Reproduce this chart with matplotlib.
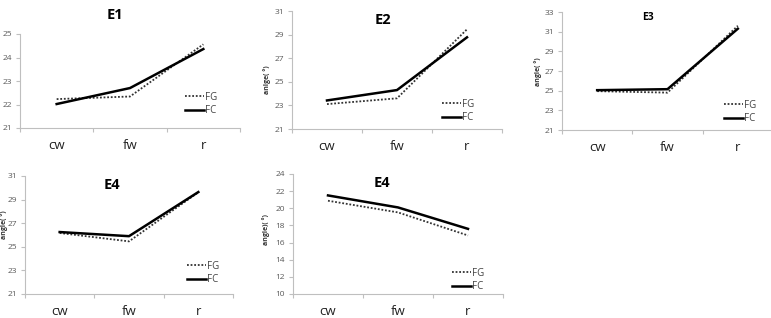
import numpy as np
import matplotlib
matplotlib.use('Agg')
import matplotlib.pyplot as plt

plt.rcParams['font.family'] = ['Open Sans', 'DejaVu Sans']

# data
cats = ['cw', 'fw', 'r']

e1_fg = [22.23, 22.34, 24.56]
e1_fc = [22.02, 22.70, 24.36]
e2_fg = [23.11, 23.60, 29.45]
e2_fc = [23.42, 24.30, 28.77]
e3_fg = [24.95, 24.80, 31.60]
e3_fc = [25.05, 25.15, 31.30]
e4_fg = [26.17, 25.46, 29.62]
e4_fc = [26.25, 25.90, 29.64]
e5_fg = [20.88, 19.52, 16.83]
e5_fc = [21.50, 20.10, 17.60]

W, H = 771.0, 318.0


def rect(x0, x1, ytop, ybot):
    return [x0 / W, 1 - ybot / H, (x1 - x0) / W, (ybot - ytop) / H]


def px(x, y):
    return x / W, 1 - y / H


fig = plt.figure(figsize=(W / 100, H / 100), dpi=100)
fig.patch.set_facecolor('white')

panels = [
    # fg, fc, axes rect, ylim, yticks, title, title pos, title size, ylabel, ylabel pos, legend pos
    (e1_fg, e1_fc, rect(20, 240, 34, 128), (21, 25), np.arange(21, 26, 1), 'E1', (115, 15), 10.5, None, None, (185, 104)),
    (e2_fg, e2_fc, rect(292, 502, 11, 129), (21, 31), np.arange(21, 32, 2), 'E2', (383, 20), 10.5, 'anlge( °)', (267, 80), (442, 111)),
    (e3_fg, e3_fc, rect(562, 773, 12, 130), (21, 33), np.arange(21, 34, 2), 'E3', (648, 17), 7.5, 'angle( °)', (538, 72), (724, 112)),
    (e4_fg, e4_fc, rect(25, 233, 176, 294), (21, 31), np.arange(21, 32, 2), 'E4', (112, 185), 10.5, 'angle( °)', (4.5, 225), (187, 273)),
    (e5_fg, e5_fc, rect(293, 503, 174, 294), (10, 24), np.arange(10, 25, 2), 'E4', (382, 183), 10.5, 'angle)( °)', (266, 230), (452, 280)),
]

xpos = np.arange(len(cats)) + 0.5

for fg, fc, r, ylim, yt, title, tpos, tsize, ylab, lpos, legpos in panels:
    ax = fig.add_axes(r)
    ax.plot(xpos, fg, linestyle=(0, (1, 1)), color='#333333', lw=1.3, label='FG')
    ax.plot(xpos, fc, linestyle='-', color='black', lw=1.8, label='FC')
    ax.set_xlim(0, 3)
    ax.set_ylim(*ylim)
    ax.set_yticks(yt)
    ax.set_xticks([0, 1, 2, 3])
    ax.set_xticklabels([])
    ax.set_xticks(xpos, minor=True)
    ax.set_xticklabels(cats, minor=True, fontsize=9.5, color='#222222')
    ax.tick_params(axis='x', which='minor', length=0, pad=8)
    ax.tick_params(axis='x', which='major', length=3, color='#bfbfbf', direction='out')
    ax.tick_params(axis='y', labelsize=6, labelcolor='#595959', length=3, color='#bfbfbf', pad=3)
    for s in ['top', 'right']:
        ax.spines[s].set_visible(False)
    for s in ['left', 'bottom']:
        ax.spines[s].set_color('#bfbfbf')
        ax.spines[s].set_linewidth(0.8)
    ax.patch.set_alpha(0)

    fig.text(*px(*tpos), title, fontsize=tsize, fontweight='bold', ha='center', va='center')
    if ylab:
        fig.text(*px(*lpos), ylab, fontsize=5, fontweight='bold', rotation=90,
                 ha='center', va='center', color='#333333')
    ax.legend(loc='center left', bbox_to_anchor=px(*legpos), bbox_transform=fig.transFigure,
              frameon=False, fontsize=7, handlelength=2.0, handletextpad=0.1,
              labelspacing=0.25, borderpad=0, borderaxespad=0, labelcolor='#444444')

fig.savefig('out.png', dpi=100)
